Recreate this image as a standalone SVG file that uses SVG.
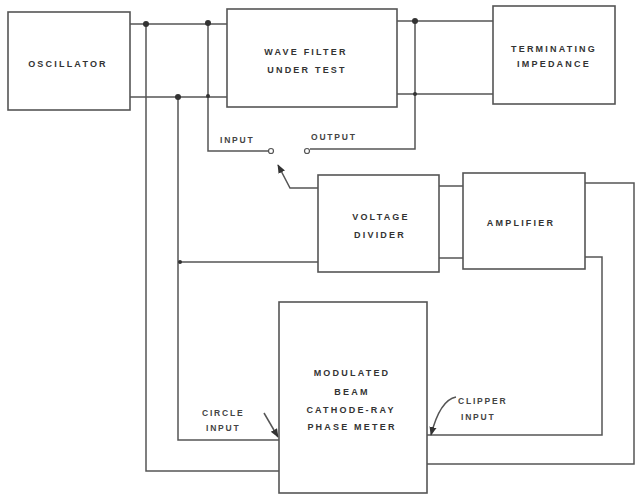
<svg xmlns="http://www.w3.org/2000/svg" width="636" height="496" viewBox="0 0 636 496">
<defs>
<style>
.box{fill:#fff;stroke:#555;stroke-width:1.6}
.w{fill:none;stroke:#555;stroke-width:1.5}
.t{font-family:"Liberation Sans",Arial,sans-serif;font-weight:bold;font-size:9px;fill:#333;letter-spacing:2.2px;text-anchor:middle}
.s{font-family:"Liberation Sans",Arial,sans-serif;font-weight:bold;font-size:8.5px;fill:#444;letter-spacing:1.8px}
.dot{fill:#333}
.term{fill:#fff;stroke:#555;stroke-width:1.2}
</style>
<marker id="ah" viewBox="0 0 10 10" refX="9" refY="5" markerWidth="6" markerHeight="6" orient="auto"><path d="M0,1 L10,5 L0,9 z" fill="#333"/></marker>
</defs>
<rect width="636" height="496" fill="#fff"/>
<g id="connectors">
<path class="w" d="M130,24 H227 M130,97 H227"/>
<path class="w" d="M397,21 H493 M397,94 H493"/>
<path class="w" d="M146,24 V471 H279"/>
<path class="w" d="M178,97 V440 H279"/>
<path class="w" d="M180,262 H318"/>
<path class="w" d="M208,23 V151 H268"/>
<path class="w" d="M415,21 V149 H310"/>
<path class="w" d="M318,188 H290 L278,165" marker-end="url(#ah)"/>
<path class="w" d="M439,186 H463 M439,258 H463"/>
<path class="w" d="M585,183 H634 V464 H427"/>
<path class="w" d="M585,257 H602 V435 H427"/>
<path class="w" d="M264,413 L278,437" marker-end="url(#ah)"/>
<path class="w" d="M456,397 Q440,400 431,435" marker-end="url(#ah)"/>
<circle class="dot" cx="146" cy="24" r="3"/>
<circle class="dot" cx="208" cy="23" r="3"/>
<circle class="dot" cx="178" cy="97" r="3"/>
<circle class="dot" cx="208" cy="96" r="2"/>
<circle class="dot" cx="415" cy="21" r="3"/>
<circle class="dot" cx="415" cy="94" r="2"/>
<circle class="dot" cx="180" cy="262" r="2"/>
<circle class="term" cx="271" cy="151" r="2.5"/>
<circle class="term" cx="307" cy="151" r="2.5"/>
<text class="s" x="220" y="143">INPUT</text>
<text class="s" x="311" y="140">OUTPUT</text>
<text class="s" x="202" y="416">CIRCLE</text>
<text class="s" x="206" y="431">INPUT</text>
<text class="s" x="458" y="404">CLIPPER</text>
<text class="s" x="461" y="420">INPUT</text>
</g>
<g id="oscillator">
<rect class="box" x="8" y="12" width="122" height="98"/>
<text class="t" x="68" y="67">OSCILLATOR</text>
</g>
<g id="wave-filter">
<rect class="box" x="227" y="9" width="170" height="98"/>
<text class="t" x="306" y="55">WAVE  FILTER</text>
<text class="t" x="307" y="73">UNDER  TEST</text>
</g>
<g id="terminating-impedance">
<rect class="box" x="493" y="6" width="122" height="98"/>
<text class="t" x="554" y="52">TERMINATING</text>
<text class="t" x="554" y="67">IMPEDANCE</text>
</g>
<g id="voltage-divider">
<rect class="box" x="318" y="175" width="121" height="97"/>
<text class="t" x="381" y="220">VOLTAGE</text>
<text class="t" x="380" y="238">DIVIDER</text>
</g>
<g id="amplifier">
<rect class="box" x="463" y="173" width="122" height="96"/>
<text class="t" x="521" y="226">AMPLIFIER</text>
</g>
<g id="phase-meter">
<rect class="box" x="279" y="302" width="148" height="191"/>
<text class="t" x="352" y="376">MODULATED</text>
<text class="t" x="352" y="395">BEAM</text>
<text class="t" x="351" y="413">CATHODE-RAY</text>
<text class="t" x="352" y="430">PHASE METER</text>
</g>
</svg>
